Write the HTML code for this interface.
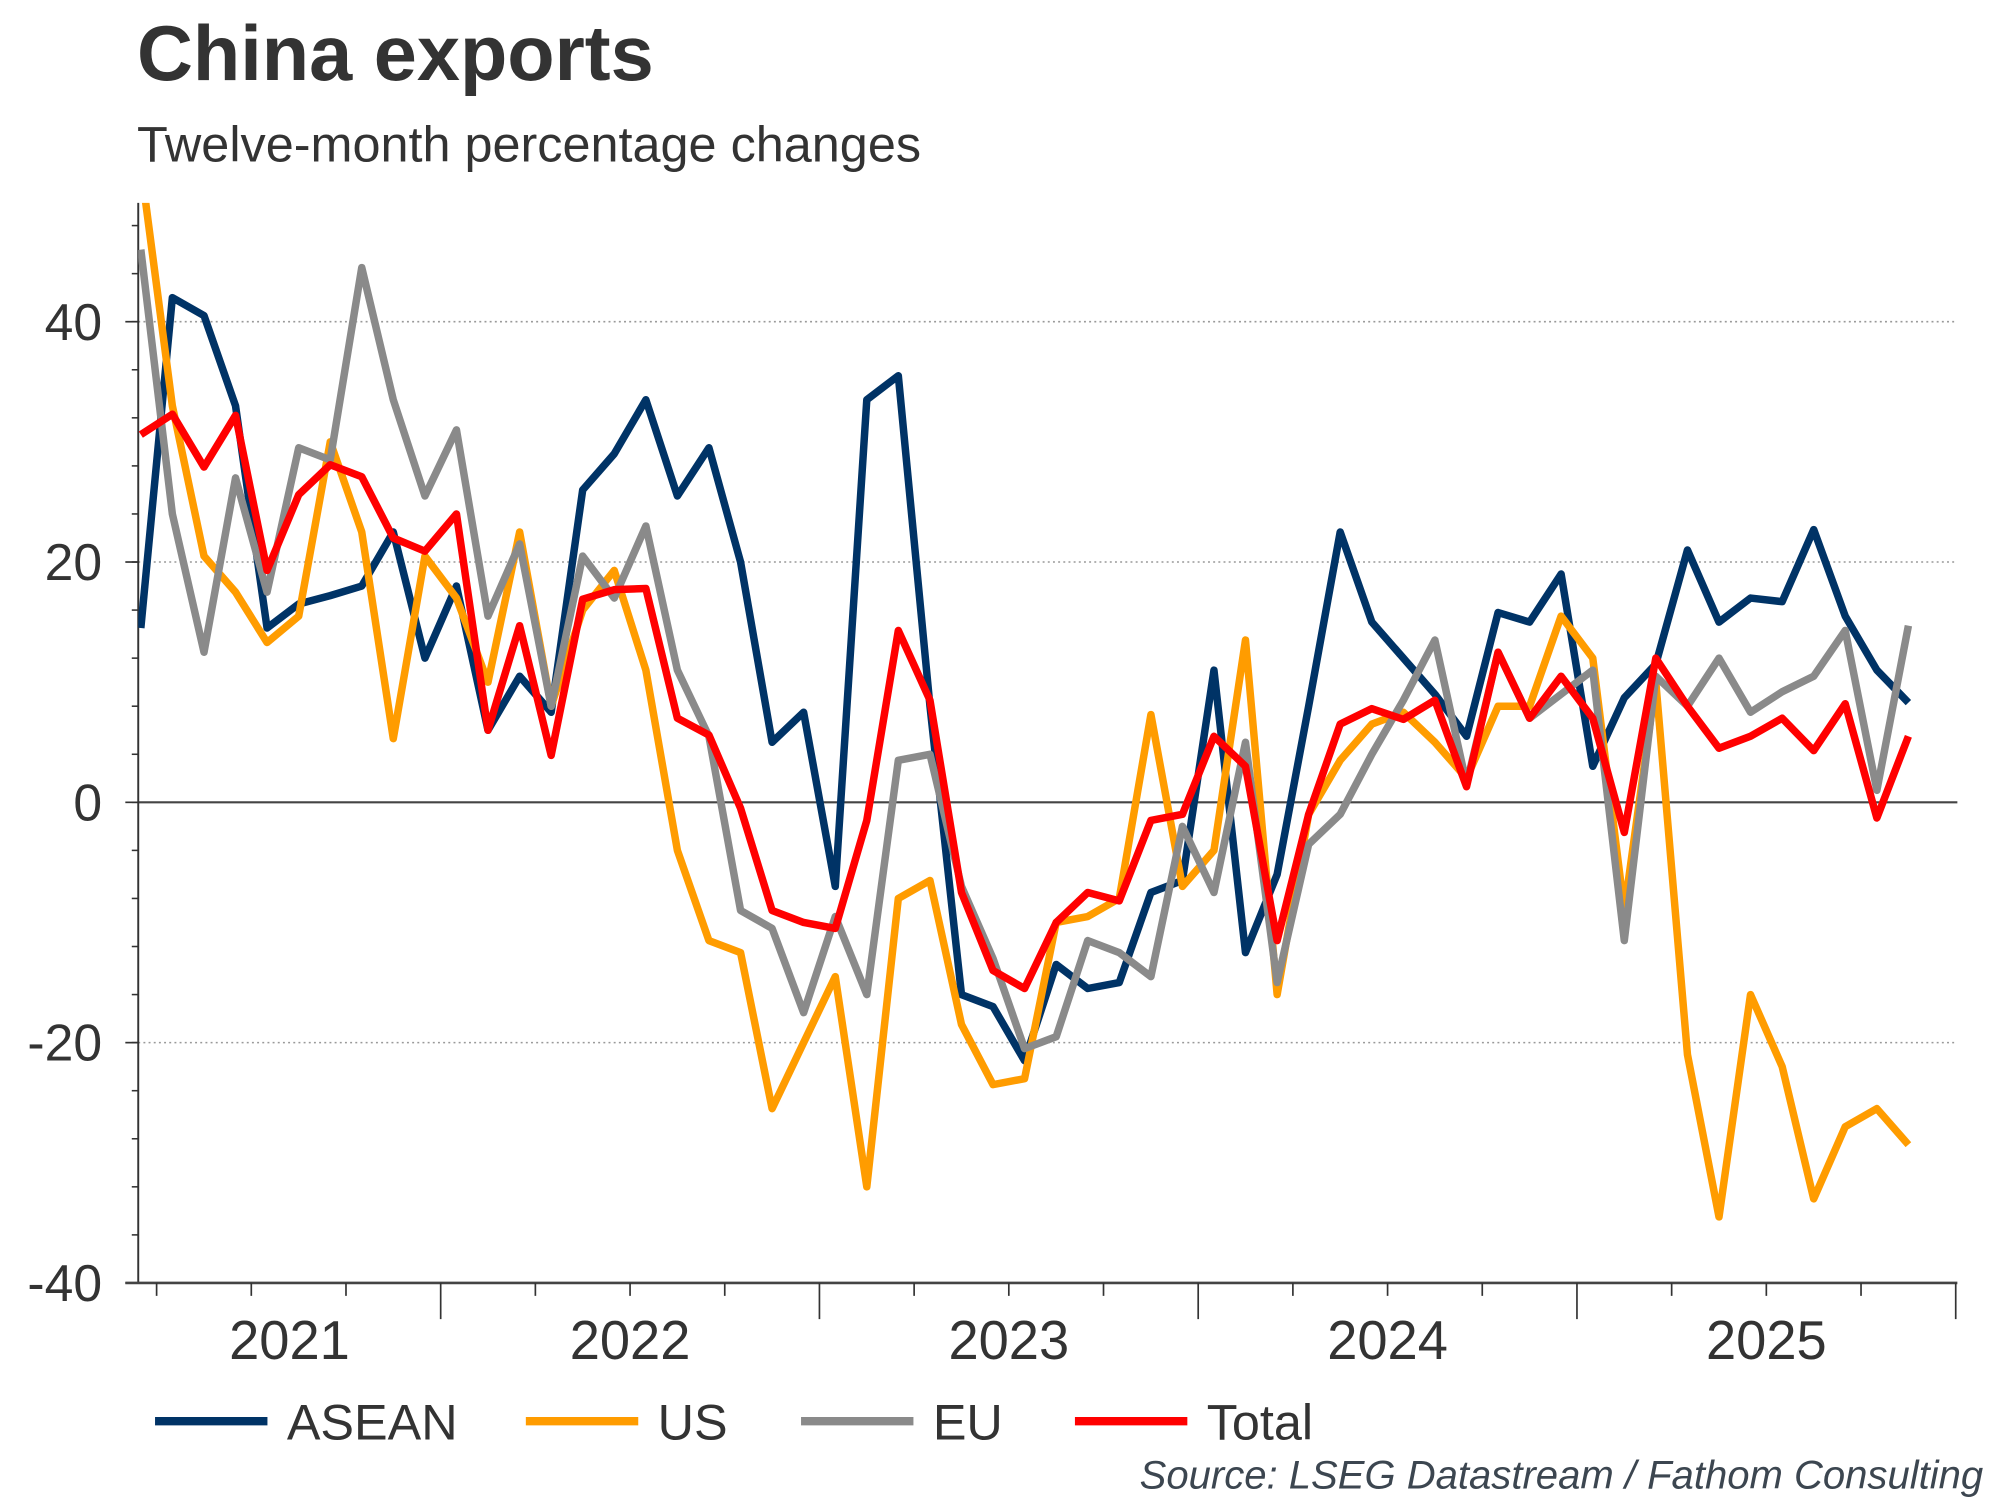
<!DOCTYPE html>
<html><head><meta charset="utf-8"><style>
html,body{margin:0;padding:0;background:#fff;}
svg{display:block;font-family:"Liberation Sans",sans-serif;}
</style></head><body>
<svg id="chart" width="2000" height="1500" viewBox="0 0 1548 1161" xmlns="http://www.w3.org/2000/svg">
<defs><clipPath id="plotclip"><rect x="107" y="157" width="1408" height="836"/></clipPath></defs>
<text x="106" y="62" font-size="60" font-weight="bold" fill="#333">China exports</text>
<text x="106" y="125" font-size="39" fill="#333">Twelve-month percentage changes</text>
<g id="grid"></g>
<g id="axes"></g>
<g id="series" clip-path="url(#plotclip)"></g>
<g id="legend"></g>
<text x="1535" y="1161" dy="-9" text-anchor="end" font-size="31" font-style="italic" fill="#3c4650">Source: LSEG Datastream / Fathom Consulting</text>
</svg>
<script>
const startYear = 2021, startMonth = 3; // first observation: March 2021
const yTicks = [40, 20, 0, -20, -40];
const yTickLabels = ["40", "20", "0", "-20", "-40"];
const yearLabels = ["2021", "2022", "2023", "2024", "2025"];
const seriesNames = ["ASEAN", "US", "EU", "Total"];
const asean = [14.5,42,40.5,33,14.5,16.5,17.2,18,22.5,12,18,6,10.5,7.5,26,29,33.5,25.5,29.5,20,5,7.5,-7,33.5,35.5,8,-16,-17,-21.5,-13.5,-15.5,-15,-7.5,-6.5,11,-12.5,-6,8,22.5,15,12,9,5.5,15.8,15,19,3,8.7,11.5,21,15,17,16.7,22.7,15.5,11,8.3];
const us = [53,33,20.5,17.5,13.3,15.5,30,22.5,5.3,20.5,17,10,22.5,8,16,19.3,11,-4,-11.5,-12.5,-25.5,-20,-14.5,-32,-8,-6.5,-18.5,-23.5,-23,-10,-9.5,-8,7.3,-7,-4,13.5,-16,-1,3.5,6.5,7.5,5,2,8,8,15.5,12,-9,10,-21,-34.5,-16,-22,-33,-27,-25.5,-28.5];
const eu = [46,24,12.5,27,17.5,29.5,28.5,44.5,33.5,25.5,31,15.5,21.5,8,20.5,17,23,11,5.5,-9,-10.5,-17.5,-9.5,-16,3.5,4,-7,-13,-20.5,-19.5,-11.5,-12.5,-14.5,-2,-7.5,5,-15,-3.5,-1,4,8.5,13.5,1.5,12.5,7,9,11,-11.5,10.5,8,12,7.5,9.2,10.5,14.3,1,14.7];
const total = [30.6,32.3,27.9,32.2,19.3,25.6,28.1,27.1,22,20.9,24,6,14.7,3.9,16.9,17.7,17.8,7,5.6,-0.5,-9,-10,-10.5,-1.5,14.3,8.5,-7.5,-14,-15.5,-10,-7.5,-8.2,-1.5,-1,5.5,3,-11.5,-1,6.5,7.8,6.9,8.5,1.3,12.5,7,10.5,7,-2.5,12,8,4.5,5.5,7,4.3,8.2,-1.3,5.5];
const colors = ["#003366", "#ff9c00", "#8a8a8a", "#ff0000"];

const NS = "http://www.w3.org/2000/svg";
const X0 = 109, DX = 24.43, PL = 107, PR = 1515, PT = 157, PB = 993;
function xScale(i){ return X0 + DX * i; }
function yScale(v){ return 621 - v * 9.3; }
function mk(tag, attrs, parent){ const e = document.createElementNS(NS, tag); for (const k in attrs) e.setAttribute(k, attrs[k]); parent.appendChild(e); return e; }
const grid = document.getElementById('grid'), axes = document.getElementById('axes'), ser = document.getElementById('series'), leg = document.getElementById('legend');

yTicks.forEach((v, k) => {
  const y = yScale(v);
  if (v !== 0 && v !== -40) {
    const g = mk('line', {x1: PL, x2: PR, y1: y, y2: y, stroke: '#999', 'stroke-width': 1.2, 'stroke-dasharray': '1.5,2.5'}, grid);
    
    
  }
  const t = mk('line', {x1: 97, x2: PL, y1: y, y2: y, stroke: '#333', 'stroke-width': 1.3}, axes);
  
  
  const lb = mk('text', {x: 79, y: y + 14, 'text-anchor': 'end', 'font-size': 40, fill: '#333'}, axes);
  lb.textContent = yTickLabels[k];
  
  
});
for (let v = -40; v <= 50; v += 4) {
  const y = yScale(v);
  const m = mk('line', {x1: 102, x2: PL, y1: y, y2: y, stroke: '#333', 'stroke-width': 1.2}, axes);
  
  
}
const zl = mk('line', {x1: PL, x2: PR, y1: yScale(0), y2: yScale(0), stroke: '#444', 'stroke-width': 1.6}, axes);


const ya = mk('line', {x1: PL, x2: PL, y1: PT, y2: PB, stroke: '#333', 'stroke-width': 1.5}, axes);


const xa = mk('line', {x1: 97, x2: PR, y1: PB, y2: PB, stroke: '#444', 'stroke-width': 2}, axes);



for (let i = 1; ; i++) {
  const x = xScale(i - 0.5);
  if (x > PR) break;
  const mIdx = (startMonth - 1 + i) % 12;
  if (mIdx % 3 !== 0) continue;
  const major = mIdx === 0;
  const tk = mk('line', {x1: x, x2: x, y1: PB, y2: PB + (major ? 28 : 10), stroke: '#333', 'stroke-width': 1.3}, axes);
  
  
}
yearLabels.forEach((yl, k) => {
  const yr = +yl;
  const iStart = (yr - startYear) * 12 - (startMonth - 1);
  let a = Math.max(PL, xScale(iStart - 0.5)), b = Math.min(PR, xScale(iStart + 11.5));
  const t = mk('text', {x: (a + b) / 2, y: 1052, 'text-anchor': 'middle', 'font-size': 42, fill: '#333'}, axes);
  t.textContent = yl;
  
  
});

[asean, us, eu, total].forEach((arr, s) => {
  const d = arr.map((v, i) => (i ? 'L' : 'M') + xScale(i).toFixed(1) + ',' + yScale(v).toFixed(1)).join(' ');
  const p = mk('path', {d: d, fill: 'none', stroke: colors[s], 'stroke-width': 5.8, 'stroke-linejoin': 'round'}, ser);
  
  
});

const legX = [120, 407, 620, 832];
seriesNames.forEach((n, s) => {
  const g = mk('g', {}, leg);
  
  
  mk('line', {x1: legX[s], x2: legX[s] + 87, y1: 1100, y2: 1100, stroke: colors[s], 'stroke-width': 6.5}, g);
  const t = mk('text', {x: legX[s] + 102, y: 1114, 'font-size': 39, fill: '#333'}, g);
  t.textContent = n;
});
</script>
</body></html>
